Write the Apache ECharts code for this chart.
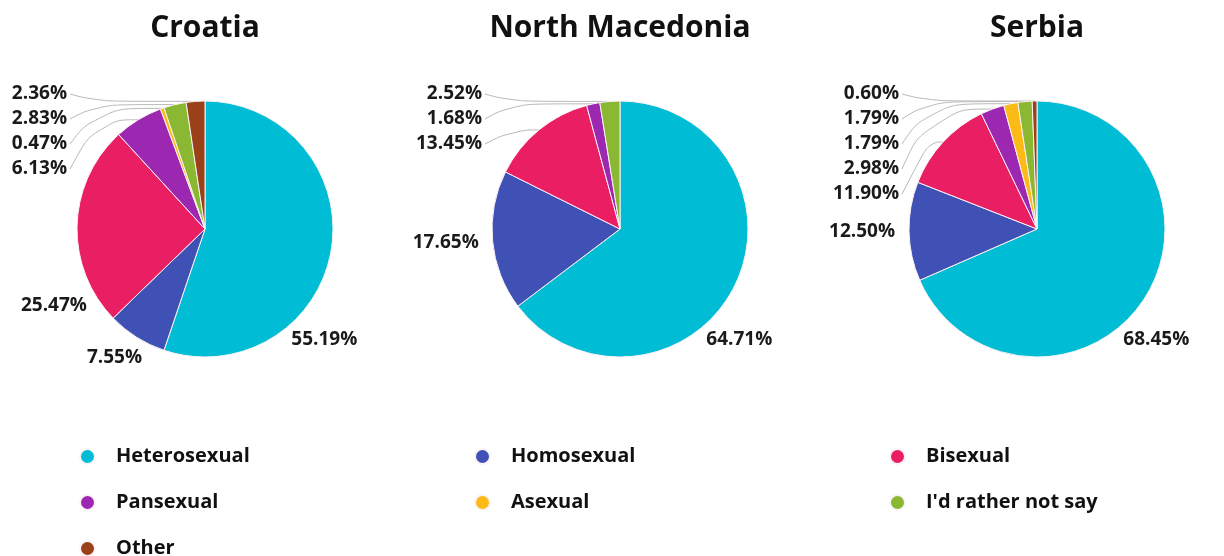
<!DOCTYPE html>
<html>
<head>
<meta charset="utf-8">
<script src="https://cdn.jsdelivr.net/npm/echarts@6/dist/echarts.min.js"></script>
<style>
  html, body { margin: 0; padding: 0; background: #fff; }
  #chart { width: 1224px; height: 556px; }
</style>
</head>
<body>
<div id="chart"></div>
<script>
// Sexual orientation shares (%) by country
const categories = ['Heterosexual', 'Homosexual', 'Bisexual', 'Pansexual', 'Asexual', "I'd rather not say", 'Other'];
const countries = ['Croatia', 'North Macedonia', 'Serbia'];
const croatia = [55.19, 7.55, 25.47, 6.13, 0.47, 2.83, 2.36];
const northMacedonia = [64.71, 17.65, 13.45, 1.68, 0, 2.52, 0];
const serbia = [68.45, 12.50, 11.90, 2.98, 1.79, 1.79, 0.60];

const colors = ['#00BCD4', '#3F51B5', '#E91E63', '#9C27B0', '#FBBA16', '#8AB833', '#9A4119'];
const FONT = '"Open Sans", Lato, sans-serif';

// layout of the three pies
const valuesByCountry = [croatia, northMacedonia, serbia];
const centersX = [205, 620, 1037];
const CY = 229;
const R = 128;
const LABEL_GAP = 14;        // space between pie rim and a side label
const STACK_TOP = -135;      // first stacked label, relative to the pie centre
const STACK_STEP = 25;       // spacing of stacked labels
const STACK_RIGHT = -138;    // right edge of stacked labels, relative to the pie centre

const chart = echarts.init(document.getElementById('chart'), null, { renderer: 'canvas' });

// per slice: category, mid angle (deg clockwise from 12 o'clock), stacked or side label
const sliceMeta = valuesByCountry.map(values => {
  const total = values.reduce((a, b) => a + b, 0);
  let acc = 0;
  const metas = [];
  values.forEach((v, i) => {
    if (v <= 0) return;
    const mid = (acc + v / 2) / total * 360;
    acc += v;
    metas.push({ cat: i, value: v, mid: mid, stacked: i >= 3 || (i === 2 && v < 15) });
  });
  // stacked labels are ordered from the slice nearest 12 o'clock downwards
  const stacked = metas.filter(m => m.stacked).sort((a, b) => b.mid - a.mid);
  stacked.forEach((m, r) => { m.rank = r; });
  return metas;
});

const rad = d => d * Math.PI / 180;

function makeLabelLayout(k) {
  const cx = centersX[k];
  return function (params) {
    const m = sliceMeta[k][params.dataIndex];
    if (!m) return {};
    const w = params.labelRect.width;
    const h = params.labelRect.height;
    if (m.stacked) {
      const tx = cx + STACK_RIGHT;
      const ty = CY + STACK_TOP + m.rank * STACK_STEP;
      const ex = cx + R * Math.sin(rad(m.mid));
      const ey = CY - R * Math.cos(rad(m.mid));
      return {
        x: tx, y: ty, align: 'right', verticalAlign: 'middle',
        labelLinePoints: [[ex, ey], [tx + 30, ey], [tx + 3, ty]]
      };
    }
    // side labels: the leading slice keeps its label in the lower right corner
    let theta = m.cat === 0 ? Math.max(m.mid, 137) : m.mid;
    const place = t => {
      const px = cx + (R + LABEL_GAP) * Math.sin(rad(t));
      const py = CY - (R + LABEL_GAP) * Math.cos(rad(t));
      return [px + Math.sin(rad(t)) * w / 2, py - Math.cos(rad(t)) * h / 2];
    };
    let c = place(theta);
    // keep labels inside the drawing area on the left
    while (theta > 180 && c[0] - w / 2 < 20) {
      theta -= 1;
      c = place(theta);
    }
    return { x: c[0], y: c[1], align: 'center', verticalAlign: 'middle' };
  };
}

const series = valuesByCountry.map((vals, k) => ({
  type: 'pie',
  name: countries[k],
  radius: R,
  center: [centersX[k], CY],
  startAngle: 90,
  clockwise: true,
  avoidLabelOverlap: false,
  data: sliceMeta[k].map(m => ({
    name: categories[m.cat],
    value: m.value,
    itemStyle: { color: colors[m.cat] },
    labelLine: { show: m.stacked }
  })),
  itemStyle: { borderColor: '#fbf3f6', borderWidth: 1 },
  label: {
    show: true,
    position: 'outside',
    formatter: p => p.value.toFixed(2) + '%',
    color: '#1a1a1a',
    fontFamily: FONT,
    fontWeight: 'bold',
    fontSize: 19
  },
  labelLine: {
    length: 10,
    length2: 10,
    smooth: 0.5,
    lineStyle: { color: '#b8b8b8', width: 1 }
  },
  labelLayout: makeLabelLayout(k),
  emphasis: { disabled: true }
}));

// legend: three columns, rows 46px apart
const LEGEND_TOP = 445;
const LEGEND_ROW = 46;
const legendCommon = {
  orient: 'vertical',
  icon: 'circle',
  itemWidth: 15,
  itemHeight: 15,
  itemGap: LEGEND_ROW - 23,
  top: LEGEND_TOP,
  padding: 0,
  textStyle: {
    fontFamily: FONT, fontWeight: 'bold', fontSize: 20, lineHeight: 20,
    color: '#111', padding: [0, 0, 3, 16]
  },
  selectedMode: false
};

chart.setOption({
  backgroundColor: '#ffffff',
  color: colors,
  title: countries.map((c, k) => ({
    text: c,
    left: centersX[k],
    top: 13,
    padding: 0,
    textAlign: 'center',
    textStyle: { fontFamily: FONT, fontWeight: 'bold', fontSize: 30, color: '#111' }
  })),
  legend: [
    Object.assign({}, legendCommon, { left: 79, data: [categories[0], categories[3]] }),
    // third row of the first column sits at the bottom edge, kept as its own block
    Object.assign({}, legendCommon, { left: 79, top: LEGEND_TOP + 2 * LEGEND_ROW, data: [categories[6]] }),
    Object.assign({}, legendCommon, { left: 474, data: [categories[1], categories[4]] }),
    Object.assign({}, legendCommon, { left: 889, data: [categories[2], categories[5]] })
  ],
  series: series
});
</script>
</body>
</html>
